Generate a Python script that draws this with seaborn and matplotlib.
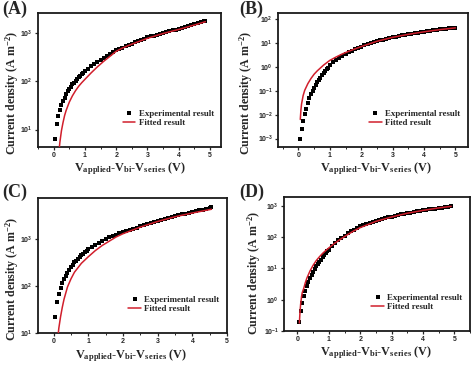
import matplotlib
matplotlib.use("Agg")
import matplotlib.pyplot as plt
from matplotlib.ticker import MultipleLocator, NullLocator, LogLocator
import seaborn as sns
import pandas as pd

# ---------------- data ----------------
A_exp_v = [0.05, 0.10, 0.15, 0.20, 0.25, 0.30, 0.35, 0.40, 0.45, 0.50, 0.55, 0.60, 0.65, 0.70,
           0.75, 0.80, 0.85, 0.90, 0.95, 1.00, 1.1, 1.2, 1.3, 1.4, 1.5, 1.6, 1.7, 1.8, 1.9, 2.0,
           2.1, 2.2, 2.3, 2.4, 2.5, 2.6, 2.7, 2.8, 2.9, 3.0, 3.1, 3.2, 3.3, 3.4, 3.5, 3.6, 3.7,
           3.8, 3.9, 4.0, 4.1, 4.2, 4.3, 4.4, 4.5, 4.6, 4.7, 4.8, 4.85]
A_exp_j = [6.5, 12.9, 19, 26, 32, 39, 46, 54, 62, 70, 78, 86, 94, 103,
           112, 122, 132, 142, 152, 162, 182, 204, 229, 254, 282, 309, 339, 372, 403, 437,
           468, 501, 537, 569, 603, 646, 692, 724, 767, 813, 851, 891, 933, 977, 1000, 1047, 1096,
           1135, 1175, 1230, 1288, 1349, 1413, 1479, 1549, 1622, 1698, 1778, 1820]
A_fit_v = [0.17, 0.20, 0.25, 0.30, 0.35, 0.40, 0.50, 0.60, 0.70, 0.80, 0.90, 1.0, 1.2, 1.4,
           1.6, 1.8, 2.0, 2.2, 2.5, 3.0, 3.5, 4.0, 4.5, 4.85]
A_fit_j = [3.5, 5.5, 9.5, 14, 19.5, 25, 37, 50, 64, 79, 94, 110, 150, 200,
           260, 330, 420, 490, 590, 780, 980, 1190, 1470, 1720]

B_exp_v = [0.05, 0.10, 0.15, 0.20, 0.25, 0.30, 0.35, 0.40, 0.45, 0.50, 0.55, 0.60, 0.65, 0.70,
           0.75, 0.80, 0.85, 0.90, 0.95, 1.00, 1.1, 1.2, 1.3, 1.4, 1.5, 1.6, 1.7, 1.8, 1.9, 2.0,
           2.1, 2.2, 2.3, 2.4, 2.5, 2.6, 2.7, 2.8, 2.9, 3.0, 3.1, 3.2, 3.3, 3.4, 3.5, 3.6, 3.7,
           3.8, 3.9, 4.0, 4.1, 4.2, 4.3, 4.4, 4.5, 4.6, 4.7, 4.8, 4.9, 5.0]
B_exp_j = [0.0010, 0.0025, 0.0054, 0.0102, 0.018, 0.030, 0.048, 0.071, 0.10, 0.135, 0.178, 0.23,
           0.29, 0.36, 0.45, 0.56, 0.68, 0.81, 0.95, 1.2, 1.58, 2.0, 2.45, 2.95, 3.55, 4.17,
           4.9, 5.6, 6.5, 7.2, 8.1, 9.1, 10.0, 11.0, 12.0, 13.0, 14.1, 15.3, 16.4, 17.6, 18.8,
           20.0, 21.2, 22.4, 23.7, 25.1, 26.3, 27.5, 28.8, 30.2, 31.6, 33.1, 34.7, 36.3, 37.6,
           38.9, 40.3, 41.7, 43.2, 44.7]
B_fit_v = [0.06, 0.08, 0.10, 0.15, 0.20, 0.30, 0.40, 0.50, 0.60, 0.80, 1.0, 1.2, 1.4,
           1.6, 1.8, 2.0, 2.5, 3.0, 3.5, 4.0, 4.5, 5.0]
B_fit_j = [0.0063, 0.0158, 0.028, 0.063, 0.105, 0.20, 0.33, 0.50, 0.69, 1.2, 1.9, 2.63, 3.55,
           4.57, 5.75, 7.2, 12.0, 17.6, 23.5, 30.0, 37.0, 44.0]

C_exp_v = [0.05, 0.10, 0.15, 0.20, 0.25, 0.30, 0.35, 0.40, 0.45, 0.50, 0.55, 0.60, 0.65, 0.70,
           0.75, 0.80, 0.85, 0.90, 0.95, 1.00, 1.1, 1.2, 1.3, 1.4, 1.5, 1.6, 1.7, 1.8, 1.9, 2.0,
           2.1, 2.2, 2.3, 2.4, 2.5, 2.6, 2.7, 2.8, 2.9, 3.0, 3.1, 3.2, 3.3, 3.4, 3.5, 3.6, 3.7,
           3.8, 3.9, 4.0, 4.1, 4.2, 4.3, 4.4, 4.5, 4.55]
C_exp_j = [22.4, 44.7, 69, 91, 115, 138, 162, 191, 219, 251, 282, 316, 347, 380,
           412, 447, 484, 525, 562, 603, 676, 759, 832, 912, 1000, 1072, 1148, 1230, 1303, 1380,
           1462, 1549, 1641, 1738, 1841, 1950, 2042, 2138, 2265, 2399, 2512, 2630, 2754, 2884,
           3020, 3162, 3311, 3428, 3548, 3715, 3890, 4027, 4169, 4365, 4571, 4677]
C_fit_v = [0.13, 0.15, 0.20, 0.25, 0.30, 0.40, 0.50, 0.60, 0.80, 1.0, 1.2, 1.4, 1.6, 1.8,
           2.0, 2.5, 3.0, 3.5, 4.0, 4.55]
C_fit_j = [9.0, 12.6, 22, 35, 52, 95, 141, 195, 302, 417, 562, 724, 891, 1096,
           1288, 1778, 2344, 2951, 3548, 4266]

D_exp_v = [0.05, 0.10, 0.15, 0.20, 0.25, 0.30, 0.35, 0.40, 0.45, 0.50, 0.55, 0.60, 0.65, 0.70,
           0.75, 0.80, 0.85, 0.90, 0.95, 1.00, 1.1, 1.2, 1.3, 1.4, 1.5, 1.6, 1.7, 1.8, 1.9, 2.0,
           2.1, 2.2, 2.3, 2.4, 2.5, 2.6, 2.7, 2.8, 2.9, 3.0, 3.1, 3.2, 3.3, 3.4, 3.5, 3.6, 3.7,
           3.8, 3.9, 4.0, 4.1, 4.2, 4.3, 4.4, 4.5, 4.6, 4.7, 4.8, 4.9]
D_exp_j = [0.19, 0.43, 0.81, 1.32, 1.91, 2.69, 3.72, 4.9, 6.3, 7.8, 9.5, 11.5, 13.8, 16.2,
           19.1, 22.4, 26.3, 30.2, 34.7, 39.8, 51, 65, 79, 95, 112, 132, 151, 174, 195, 219,
           240, 263, 285, 309, 331, 355, 376, 398, 422, 447, 473, 501, 525, 550, 575, 603, 631,
           661, 684, 708, 733, 759, 785, 813, 841, 871, 902, 933, 966]
D_fit_v = [0.06, 0.08, 0.10, 0.13, 0.15, 0.20, 0.25, 0.30, 0.40, 0.50, 0.60, 0.70, 0.80, 0.90,
           1.0, 1.2, 1.4, 1.6, 1.8, 2.0, 2.5, 3.0, 3.5, 4.0, 4.5, 4.9]
D_fit_j = [0.18, 0.40, 0.71, 1.26, 1.66, 2.3, 3.5, 4.9, 8.3, 12.6, 17.8, 23.4, 30, 37,
           45, 65, 89, 120, 158, 200, 316, 437, 575, 708, 851, 955]

EXP_LABEL = "Experimental result"
FIT_LABEL = "Fitted result"
X_LABEL = r"V$_{\mathdefault{applied}}$-V$_{\mathdefault{bi}}$-V$_{\mathdefault{series}}$ (V)"
Y_LABEL = r"Current density (A m$^{\mathdefault{-2}}$)"
X_TICKS = [0, 1, 2, 3, 4, 5]

# ---------------- style ----------------
sns.set_style("ticks")
plt.rcParams["font.family"] = ["Liberation Serif", "DejaVu Serif"]
plt.rcParams["font.weight"] = "bold"
plt.rcParams["axes.labelweight"] = "bold"
plt.rcParams["mathtext.default"] = "regular"

RED = "#d11f2c"

fig = plt.figure(figsize=(4.74, 3.68), dpi=100)
W, H = 474.0, 368.0


def rect(l, r, t, b):
    return [l / W, (H - b) / H, (r - l) / W, (b - t) / H]


panels = [
    dict(box=rect(38, 221, 13, 147), ev=A_exp_v, ej=A_exp_j, fv=A_fit_v, fj=A_fit_j,
         xlim=(-0.5, 5.35), ylim=(4.35, 2610), letter="(A)", lpos=(2, 1),
         ylc=(-0.092, 0.40), xlc=(0.505, -0.10)),
    dict(box=rect(278, 468, 13, 147), ev=B_exp_v, ej=B_exp_j, fv=B_fit_v, fj=B_fit_j,
         xlim=(-0.65, 5.4), ylim=(4.4e-4, 185), letter="(B)", lpos=(239, 1),
         ylc=(-0.122, 0.40), xlc=(0.516, -0.10)),
    dict(box=rect(38, 227, 198, 333), ev=C_exp_v, ej=C_exp_j, fv=C_fit_v, fj=C_fit_j,
         xlim=(-0.45, 5.0), ylim=(9.99, 7400), letter="(C)", lpos=(2, 184),
         ylc=(-0.09, 0.40), xlc=(0.492, -0.104)),
    dict(box=rect(284, 470, 197, 331), ev=D_exp_v, ej=D_exp_j, fv=D_fit_v, fj=D_fit_j,
         xlim=(-0.43, 5.5), ylim=(0.0999, 1900), letter="(D)", lpos=(239, 184),
         ylc=(-0.115, 0.43), xlc=(0.497, -0.10)),
]

for p in panels:
    ax = fig.add_axes(p["box"])
    df_e = pd.DataFrame({"V": p["ev"], "J": p["ej"]})
    df_f = pd.DataFrame({"V": p["fv"], "J": p["fj"]})
    sns.scatterplot(data=df_e, x="V", y="J", marker="s", s=12, color="black",
                    linewidth=0, label=EXP_LABEL, ax=ax, zorder=2)
    sns.lineplot(data=df_f, x="V", y="J", color=RED, linewidth=1.1, label=FIT_LABEL,
                 ax=ax, zorder=3, errorbar=None)
    ax.set_yscale("log")
    ax.set_xlim(*p["xlim"])
    ax.set_ylim(*p["ylim"])
    ax.set_xticks(X_TICKS)
    ax.xaxis.set_minor_locator(MultipleLocator(0.5))
    ax.yaxis.set_major_locator(LogLocator(base=10, numticks=10))
    ax.yaxis.set_minor_locator(NullLocator())
    for s in ax.spines.values():
        s.set_visible(True)
        s.set_linewidth(1.3)
        s.set_color("#1a1a1a")
    ax.tick_params(which="major", direction="out", length=2.5, width=0.9, pad=1.2,
                   labelsize=5, labelfontfamily="Liberation Sans")
    ax.tick_params(which="minor", direction="out", length=1.5, width=0.7)
    ax.set_xlabel(X_LABEL, fontsize=8.8)
    ax.set_ylabel(Y_LABEL, fontsize=8.6)
    ax.yaxis.set_label_coords(*p["ylc"])
    ax.xaxis.set_label_coords(*p["xlc"])
    ax.legend(loc="lower right", bbox_to_anchor=(0.96, 0.15), frameon=False,
              prop={"family": "Liberation Serif", "weight": "bold", "size": 6.4},
              handlelength=1.4, handletextpad=0.4, borderpad=0, labelspacing=0.1,
              borderaxespad=0)
    fig.text(p["lpos"][0] / W, 1 - p["lpos"][1] / H, p["letter"], ha="left", va="top",
             fontsize=13, fontweight="bold")

fig.savefig("out.png", dpi=100, facecolor="white")
